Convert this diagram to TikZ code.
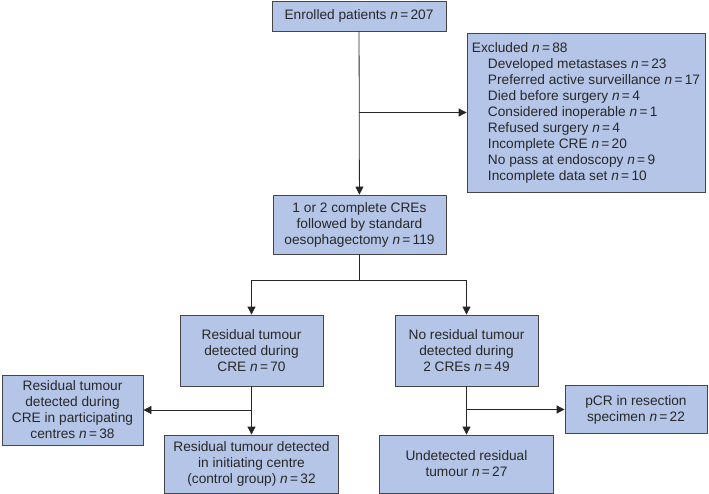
\documentclass[tikz,border=0pt]{standalone}
\usepackage{fontspec}
\setmainfont{Liberation Sans}
\usetikzlibrary{arrows.meta}
\definecolor{boxfill}{RGB}{180,197,231}
\definecolor{boxline}{RGB}{70,70,70}
\definecolor{boxtext}{RGB}{40,40,40}
\newcommand{\nval}[1]{\textit{n}\,=\,#1}
\newcommand{\sub}{\hspace*{16pt}}
\tikzset{
  flowbox/.style={draw=boxline, fill=boxfill, text=boxtext, align=center, inner sep=0pt,
    font=\fontsize{13.7}{16}\selectfont},
  link/.style={draw=black!85, line width=0.8pt},
}
\begin{document}
\begin{tikzpicture}[>={Triangle[length=8pt,width=8pt]},x=1pt,y=-1pt,line width=0.8pt]
\useasboundingbox (0,0) rectangle (709,494);
% boxes
\node[flowbox, minimum width=174pt, minimum height=30pt] (enrol) at (359,16) {Enrolled patients \nval{207}};
\node[flowbox, align=left, minimum width=238pt, minimum height=159pt] (excl) at (586,112.5)
  {Excluded \nval{88}\\
   \sub Developed metastases \nval{23}\\
   \sub Preferred active surveillance \nval{17}\\
   \sub Died before surgery \nval{4}\\
   \sub Considered inoperable \nval{1}\\
   \sub Refused surgery \nval{4}\\
   \sub Incomplete CRE \nval{20}\\
   \sub No pass at endoscopy \nval{9}\\
   \sub Incomplete data set \nval{10}};
\node[flowbox, minimum width=173pt, minimum height=59pt] (main) at (359.5,224.5)
  {1 or 2 complete CREs\\followed by standard\\oesophagectomy \nval{119}};
\node[flowbox, minimum width=143pt, minimum height=71pt] (resid) at (251.5,350.5)
  {Residual tumour\\detected during\\CRE \nval{70}};
\node[flowbox, minimum width=143pt, minimum height=71pt] (nores) at (466.5,350.5)
  {No residual tumour\\detected during\\2 CREs \nval{49}};
\node[flowbox, minimum width=141pt, minimum height=70pt] (partic) at (72.5,410)
  {Residual tumour\\detected during\\CRE in participating\\centres \nval{38}};
\node[flowbox, minimum width=174pt, minimum height=58pt] (control) at (251.5,464)
  {Residual tumour detected\\in initiating centre\\(control group) \nval{32}};
\node[flowbox, minimum width=174pt, minimum height=58pt] (undet) at (466.5,464)
  {Undetected residual\\tumour \nval{27}};
\node[flowbox, minimum width=142pt, minimum height=48pt] (pcr) at (636,409.5)
  {pCR in resection\\specimen \nval{22}};
% connectors
\coordinate (split) at (359.5,280);
\draw[link,->] (enrol) -- (main);
\draw[link,->] (enrol.south |- excl) -- (excl);
\draw[link] (main) -- (split);
\draw[link,->] (split) -| (resid);
\draw[link,->] (split) -| (nores);
\draw[link,->] (resid) -- (control);
\draw[link,->] (resid.south |- partic) -- (partic);
\draw[link,->] (nores) -- (undet);
\draw[link,->] (nores.south |- pcr) -- (pcr);
\end{tikzpicture}
\end{document}
